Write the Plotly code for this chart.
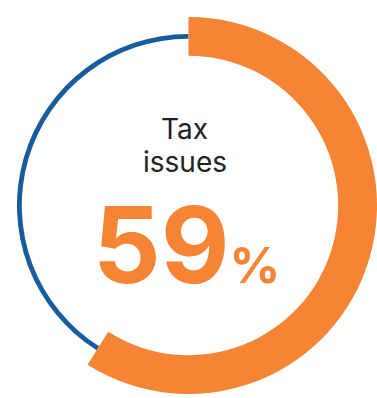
import plotly.graph_objects as go

# Data
labels = ["Tax issues", "Other"]
values = [59, 41]
headline = "59"
title_lines = ["Tax", "issues"]

ORANGE = "#F58434"
BLUE = "#175C9C"
W, H = 377, 398
cy_px = 205.5
cx_px = 184.5
yc = 1 - cy_px / H

R_out = W / 2.0
blue_outer = R_out * 0.910

fig = go.Figure()

# thin blue ring (remaining share)
fig.add_trace(go.Pie(
    labels=labels, values=values, sort=False, direction="clockwise", rotation=0,
    hole=0.972,
    marker=dict(colors=["rgba(0,0,0,0)", BLUE], line=dict(width=0)),
    textinfo="none", hoverinfo="skip", showlegend=False,
    domain=dict(x=[0.5 - blue_outer / W, 0.5 + blue_outer / W],
                y=[yc - blue_outer / H, yc + blue_outer / H]),
))

# thick orange arc (headline share)
fig.add_trace(go.Pie(
    labels=labels, values=values, sort=False, direction="clockwise", rotation=0,
    hole=0.794,
    marker=dict(colors=[ORANGE, "rgba(0,0,0,0)"], line=dict(width=0)),
    textinfo="none", hoverinfo="skip", showlegend=False,
    domain=dict(x=[0, 1], y=[yc - R_out / H, yc + R_out / H]),
))

xc = cx_px / W
fig.add_annotation(text=title_lines[0], x=xc, y=1 - 129 / H, xref="paper", yref="paper",
                   showarrow=False, font=dict(family="Inter", size=28, color="#222222"),
                   xanchor="center", yanchor="middle")
fig.add_annotation(text=title_lines[1], x=xc, y=1 - 162 / H, xref="paper", yref="paper",
                   showarrow=False, font=dict(family="Inter", size=28, color="#222222"),
                   xanchor="center", yanchor="middle")
fig.add_annotation(text=headline + "<span style='font-size:50px'>%</span>",
                   x=186.5 / W, y=1 - 244 / H, xref="paper", yref="paper",
                   showarrow=False, height=80, valign="middle",
                   font=dict(family="Inter", size=106, color=ORANGE, weight=700),
                   xanchor="center", yanchor="middle")

fig.update_layout(width=W, height=H, margin=dict(l=0, r=0, t=0, b=0),
                  paper_bgcolor="white", plot_bgcolor="white", showlegend=False)

fig.write_html("out.html")
